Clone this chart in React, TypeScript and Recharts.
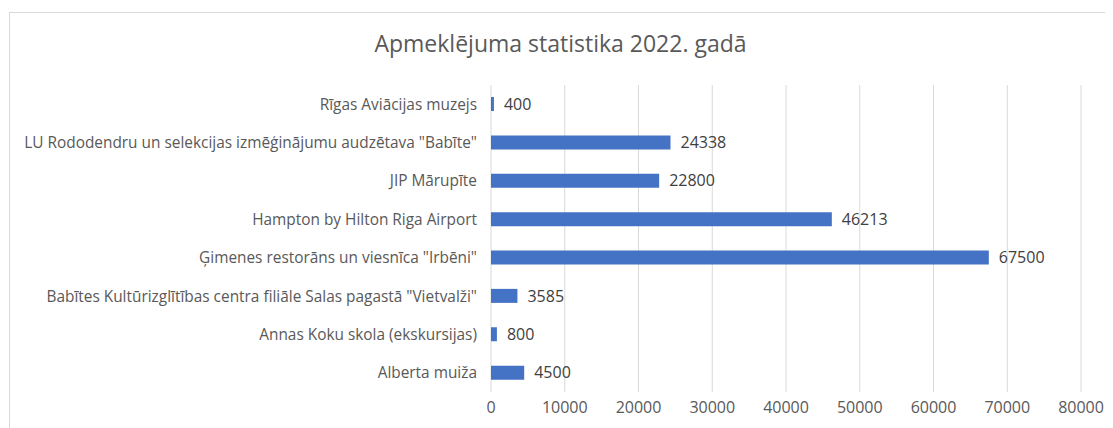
import { BarChart, Bar, XAxis, YAxis, CartesianGrid, LabelList } from "recharts";

// top to bottom as in the picture
const places = [
  "Rīgas Aviācijas muzejs",
  "LU Rododendru un selekcijas izmēģinājumu audzētava \"Babīte\"",
  "JIP Mārupīte",
  "Hampton by Hilton Riga Airport",
  "Ģimenes restorāns un viesnīca \"Irbēni\"",
  "Babītes Kultūrizglītības centra filiāle Salas pagastā \"Vietvalži\"",
  "Annas Koku skola (ekskursijas)",
  "Alberta muiža",
];
const visitors = [400, 24338, 22800, 46213, 67500, 3585, 800, 4500];
const xTicks = [0, 10000, 20000, 30000, 40000, 50000, 60000, 70000, 80000];

const data = places.map((name, i) => ({ name, value: visitors[i] }));

const FONT = "'Open Sans', sans-serif";

export default function App() {
  return (
    <div style={{ position: "relative", width: 1105, height: 420, overflow: "hidden", fontFamily: FONT }}>
      {/* chart frame, runs off the right and bottom edge */}
      <div
        style={{
          position: "absolute",
          left: 1,
          top: 4,
          width: 1200,
          height: 500,
          border: "1px solid #d9d9d9",
          boxSizing: "border-box",
        }}
      />
      <div
        style={{
          position: "absolute",
          left: 0,
          top: 19,
          width: 1105,
          textAlign: "center",
          fontSize: 23,
          fontWeight: 500,
          color: "#595959",
        }}
      >
        Apmeklējuma statistika 2022. gadā
      </div>
      <BarChart
        width={1105}
        height={420}
        data={data}
        layout="vertical"
        margin={{ top: 77, right: 32, bottom: 0, left: 0 }}
        barSize={14}
        style={{ position: "absolute", left: 0, top: 0 }}
      >
        <CartesianGrid horizontal={false} vertical stroke="#d9d9d9" verticalValues={xTicks} />
        <XAxis
          type="number"
          domain={[0, 80000]}
          ticks={xTicks}
          axisLine={false}
          tickLine={false}
          tickSize={0}
          tickMargin={10}
          height={36}
          interval={0}
          tick={{ fill: "#595959", fontSize: 16, fontFamily: FONT }}
        />
        <YAxis
          type="category"
          dataKey="name"
          width={483}
          axisLine={false}
          tickLine={false}
          tickSize={0}
          tickMargin={14}
          interval={0}
          tick={{ fill: "#595959", fontSize: 15.4, fontFamily: FONT }}
        />
        <Bar dataKey="value" fill="#4472C4" isAnimationActive={false}>
          <LabelList dataKey="value" position="right" offset={10} fill="#404040" fontSize={16} fontFamily={FONT} />
        </Bar>
      </BarChart>
    </div>
  );
}
